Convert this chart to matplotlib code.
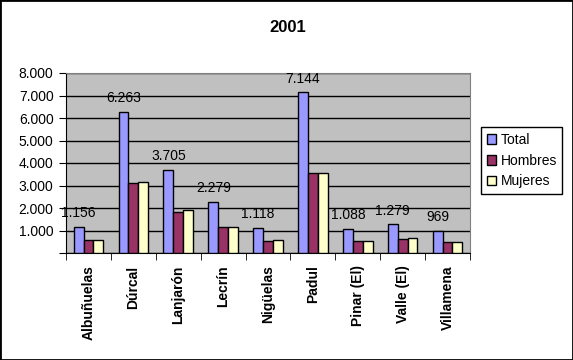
import matplotlib.pyplot as plt
from matplotlib.patches import Rectangle
from matplotlib.ticker import FixedLocator, FuncFormatter
import numpy as np

plt.rcParams['font.family'] = ['Liberation Sans', 'DejaVu Sans']

municipios = ['Albuñuelas', 'Dúrcal', 'Lanjarón', 'Lecrín', 'Nigüelas',
              'Padul', 'Pinar (El)', 'Valle (El)', 'Villamena']
total = [1156, 6263, 3705, 2279, 1118, 7144, 1088, 1279, 969]
hombres = [575, 3115, 1810, 1140, 545, 3567, 540, 620, 480]
mujeres = [581, 3148, 1895, 1139, 573, 3577, 548, 659, 489]


def miles(v, pos=None):
    # formato tipo Excel "#.###": el cero queda vacio
    v = int(round(v))
    if v == 0:
        return ''
    return f'{v:,}'.replace(',', '.')


fig = plt.figure(figsize=(5.73, 3.6), dpi=100)
ax = fig.add_axes([66 / 573, 1 - 253 / 360, 404 / 573, 180 / 360])

x = np.arange(len(municipios))
w = 0.22
b1 = ax.bar(x - w, total, w, color='#9999FF', edgecolor='black', linewidth=1, label='Total', zorder=3)
b2 = ax.bar(x, hombres, w, color='#993366', edgecolor='black', linewidth=1, label='Hombres', zorder=3)
b3 = ax.bar(x + w, mujeres, w, color='#FFFFCC', edgecolor='black', linewidth=1, label='Mujeres', zorder=3)

for xi, v in zip(x - w, total):
    ax.annotate(miles(v), (xi, v), xytext=(0, 7), textcoords='offset points',
                ha='center', va='baseline', fontsize=10, zorder=4)

ax.set_facecolor('#C0C0C0')
ax.set_xlim(-0.5, len(municipios) - 0.5)
ax.set_ylim(0, 8000)
ax.set_yticks(range(0, 8001, 1000))
ax.yaxis.set_major_formatter(FuncFormatter(miles))
ax.grid(axis='y', color='black', linewidth=1, zorder=1)

ax.set_xticks(x)
ax.set_xticklabels(municipios, rotation=90, fontsize=10, fontweight='bold')
ax.tick_params(axis='x', length=0, pad=9)
ax.xaxis.set_minor_locator(FixedLocator(np.arange(-0.5, len(municipios), 1)))
ax.tick_params(axis='x', which='minor', length=5, direction='out', color='black')
ax.tick_params(axis='y', length=5, direction='out', labelsize=10, pad=4)

for s in ['top', 'right']:
    ax.spines[s].set_color('#808080')
for s in ['left', 'bottom']:
    ax.spines[s].set_color('black')

fig.text(0.502, 1 - 28 / 360, '2001', ha='center', va='center', fontsize=12, fontweight='bold')

leg = fig.legend(handles=[b1, b2, b3], loc='upper left', bbox_to_anchor=(481 / 573, 1 - 127 / 360),
                 fontsize=10, frameon=True, fancybox=False, edgecolor='black', framealpha=1,
                 handlelength=0.7, handleheight=0.7, handletextpad=0.3, labelspacing=0.5,
                 borderpad=0.4, borderaxespad=0)
leg.get_frame().set_linewidth(1)

fig.patches.append(Rectangle((0, 0), 1, 1, transform=fig.transFigure, fill=False,
                             edgecolor='black', linewidth=2))

fig.savefig('out.png', dpi=100)
